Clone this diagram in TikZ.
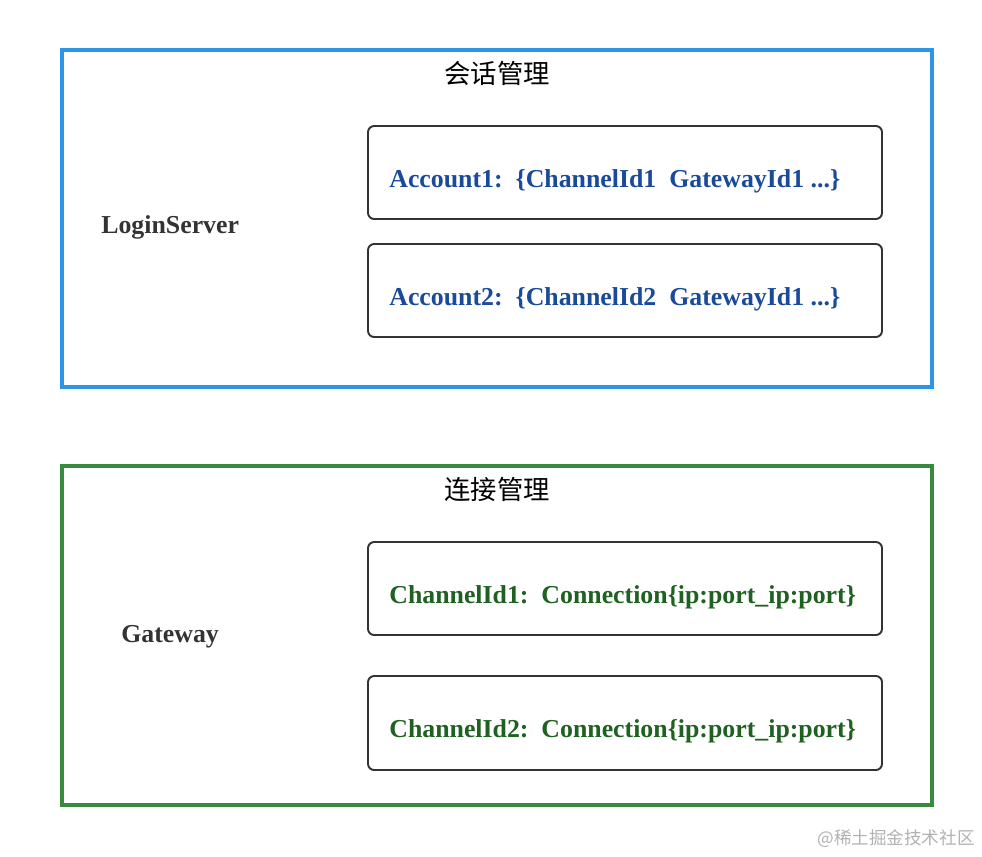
\documentclass[tikz,border=0pt]{standalone}
\usepackage{fontspec}
\setmainfont{Liberation Serif}
\newfontfamily\cjk{Noto Sans CJK SC}
\usetikzlibrary{positioning}
\definecolor{loginblue}{HTML}{2B96E8}
\definecolor{gatewaygreen}{HTML}{3A8A3E}
\definecolor{textblue}{HTML}{1A4A9A}
\definecolor{textgreen}{HTML}{1E6120}
\definecolor{darkgray}{HTML}{333333}
\begin{document}
\begin{tikzpicture}[
  x=0.02cm, y=-0.02cm,
  every node/.style={inner sep=0pt},
  outer/.style={draw=#1, line width=2.3pt},
  entry/.style={draw=darkgray, line width=1.1pt, rounded corners=3.5pt},
  title/.style={font=\cjk\fontsize{15}{18}\selectfont, text=black},
  server/.style={font=\bfseries\fontsize{14.7}{17}\selectfont, text=darkgray, anchor=west},
  rec/.style={font=\bfseries\fontsize{14.7}{17}\selectfont, text=#1, anchor=west}
]
\useasboundingbox (0,0) rectangle (982,856);

% LoginServer
\draw[outer=loginblue] (62,50) rectangle (932,387);
\node[title] (sess) at (497,73) {会话管理};
\node[server] (login) at (101,227) {LoginServer};
\draw[entry] (368,126) rectangle (882,219);
\draw[entry] (368,244) rectangle (882,337);
\node[rec=textblue] (acc1) at (389,181) {Account1:\ \ \{ChannelId1\ \ GatewayId1 ...\}};
\node[rec=textblue] (acc2) at (389,299) {Account2:\ \ \{ChannelId2\ \ GatewayId1 ...\}};

% Gateway
\draw[outer=gatewaygreen] (62,466) rectangle (932,805);
\node[title] (conn) at (497,489) {连接管理};
\node[server] (gw) at (121,637) {Gateway};
\draw[entry] (368,542) rectangle (882,635);
\draw[entry] (368,676) rectangle (882,770);
\node[rec=textgreen] (ch1) at (389,597) {ChannelId1:\ \ Connection\{ip:port\_ip:port\}};
\node[rec=textgreen] (ch2) at (389,731) {ChannelId2:\ \ Connection\{ip:port\_ip:port\}};

\node[font=\cjk\fontsize{10}{12}\selectfont, text=black!30, anchor=east] (mark) at (975,839) {@稀土掘金技术社区};
\end{tikzpicture}
\end{document}
